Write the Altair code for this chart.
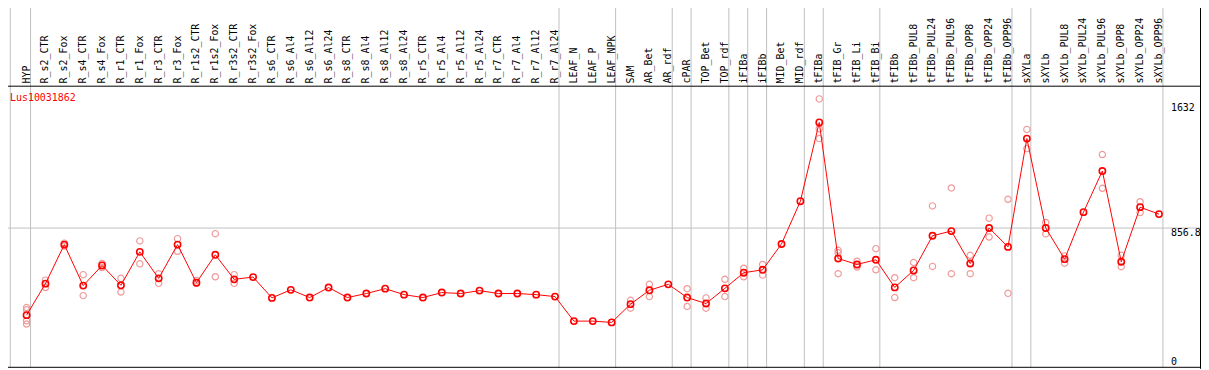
import altair as alt
import pandas as pd

gene = "Lus10031862"

names = [
    "HYP", "R_s2_CTR", "R_s2_Fox", "R_s4_CTR", "R_s4_Fox", "R_r1_CTR", "R_r1_Fox",
    "R_r3_CTR", "R_r3_Fox", "R_r1s2_CTR", "R_r1s2_Fox", "R_r3s2_CTR", "R_r3s2_Fox",
    "R_s6_CTR", "R_s6_Al4", "R_s6_Al12", "R_s6_Al24", "R_s8_CTR", "R_s8_Al4",
    "R_s8_Al12", "R_s8_Al24", "R_r5_CTR", "R_r5_Al4", "R_r5_Al12", "R_r5_Al24",
    "R_r7_CTR", "R_r7_Al4", "R_r7_Al12", "R_r7_Al24", "LEAF_N", "LEAF_P", "LEAF_NPK",
    "SAM", "AR_Bet", "AR_rdf", "cPAR", "TOP_Bet", "TOP_rdf", "iFIBa", "iFIBb",
    "MID_Bet", "MID_rdf", "tFIBa", "tFIB_Gr", "tFIB_Li", "tFIB_Bi", "tFIBb",
    "tFIBb_PUL8", "tFIBb_PUL24", "tFIBb_PUL96", "tFIBb_OPP8", "tFIBb_OPP24",
    "tFIBb_OPP96", "sXYLa", "sXYLb", "sXYLb_PUL8", "sXYLb_PUL24", "sXYLb_PUL96",
    "sXYLb_OPP8", "sXYLb_OPP24", "sXYLb_OPP96",
]

means = [
    317, 512, 754, 500, 625, 502, 709, 545, 754, 518, 691, 539, 553,
    424, 474, 426, 488, 426, 451, 481, 444, 426, 457, 451, 469,
    451, 451, 444, 432, 280, 280, 272,
    385, 471, 508, 426, 389, 483, 580, 598, 758, 1023,
    1511, 668, 631, 660, 489, 594, 809, 838, 637, 857, 740,
    1411, 857, 664, 955, 1210, 648, 986, 943,
]

replicates = [
    [364, 350, 282, 262], [534, 488], [763, 745], [568, 438], [637, 612],
    [545, 460], [777, 635], [574, 514], [791, 713], [532, 514], [822, 555],
    [568, 514], [],
    [], [], [], [], [], [], [], [], [], [], [], [],
    [], [], [], [], [], [], [],
    [409, 360], [508, 432], [], [481, 371], [424, 360], [539, 432],
    [608, 555], [631, 565], [], [],
    [1657, 1472, 1411], [719, 703, 574], [651, 615], [729, 598], [549, 426],
    [643, 549], [994, 619], [1105, 574], [688, 574], [918, 801], [1035, 452],
    [1468, 1349], [891, 820], [684, 639], [], [1312, 1103], [688, 617],
    [1020, 953], [],
]

group_ends = [0, 28, 31, 34, 35, 37, 38, 39, 41, 42, 45, 52, 53, 60]
y_ticks = [1632, 856.8]
y_zero = [0]

W, H = 1201, 362
FONT = "DejaVu Sans Mono"
GRID = "#c0c0c0"

xs = alt.Scale(domain=[-0.9842, 62.2263], zero=False, nice=False)
ys = alt.Scale(domain=[-15.4, 2212.7], zero=False, nice=False)

df = pd.DataFrame({"idx": list(range(len(names))), "name": names, "mean": means})
rdf = pd.DataFrame(
    [{"idx": i, "value": v} for i, reps in enumerate(replicates) for v in reps]
)
gdf = pd.DataFrame({"pos": [-0.863] + [g + 0.21 for g in group_ends]})
one = pd.DataFrame({"a": [0]})

vgrid = alt.Chart(gdf).mark_rule(color=GRID, strokeWidth=1).encode(
    x=alt.X("pos:Q", scale=xs, axis=None), y=alt.value(-8), y2=alt.value(361)
)
hgrid = alt.Chart(pd.DataFrame({"v": [856.8]})).mark_rule(color=GRID, strokeWidth=1).encode(
    y=alt.Y("v:Q", scale=ys, axis=None), x=alt.value(0), x2=alt.value(1200)
)
head_sep = alt.Chart(one).mark_rule(color="black", strokeWidth=1).encode(
    y=alt.value(77.5), x=alt.value(0), x2=alt.value(W)
)
bottom = alt.Chart(one).mark_rule(color="black", strokeWidth=1).encode(
    y=alt.value(360.5), x=alt.value(0), x2=alt.value(W)
)
right = alt.Chart(one).mark_rule(color="black", strokeWidth=1).encode(
    x=alt.value(1200.5), y=alt.value(-8), y2=alt.value(H)
)

reps = alt.Chart(rdf).mark_point(
    shape="circle", filled=False, color="#ef9a9a", size=40, strokeWidth=1.2, opacity=1
).encode(x=alt.X("idx:Q", scale=xs, axis=None), y=alt.Y("value:Q", scale=ys, axis=None))

line = alt.Chart(df).mark_line(color="#ff0000", strokeWidth=1).encode(
    x=alt.X("idx:Q", scale=xs, axis=None), y=alt.Y("mean:Q", scale=ys, axis=None)
)
pts = alt.Chart(df).mark_point(
    shape="circle", filled=False, color="#ff0000", size=40, strokeWidth=1.6, opacity=1
).encode(x=alt.X("idx:Q", scale=xs, axis=None), y=alt.Y("mean:Q", scale=ys, axis=None))

labels = alt.Chart(df).mark_text(
    angle=270, align="left", baseline="middle", font=FONT, fontSize=10, color="black"
).encode(x=alt.X("idx:Q", scale=xs, axis=None), y=alt.value(74.7), text="name:N")

tick_df = pd.DataFrame({"v": y_ticks, "label": [f"{t:g}" for t in y_ticks]})
ticks = alt.Chart(tick_df).mark_text(
    align="left", baseline="alphabetic", dy=8, font=FONT, fontSize=10, color="black"
).encode(x=alt.value(1170.7), y=alt.Y("v:Q", scale=ys, axis=None), text="label:N")
zero_df = pd.DataFrame({"v": y_zero, "label": [f"{t:g}" for t in y_zero]})
zero = alt.Chart(zero_df).mark_text(
    align="left", baseline="alphabetic", dy=-1.5, font=FONT, fontSize=10, color="black"
).encode(x=alt.value(1170.7), y=alt.Y("v:Q", scale=ys, axis=None), text="label:N")

title = alt.Chart(pd.DataFrame({"g": [gene]})).mark_text(
    align="left", baseline="alphabetic", font=FONT, fontSize=10, color="#ff0000"
).encode(x=alt.value(2), y=alt.value(92), text="g:N")

chart = alt.layer(
    vgrid, hgrid, head_sep, bottom, right, reps, line, pts, labels, ticks, zero, title
).properties(
    width=W, height=H, padding=0, autosize=alt.AutoSizeParams(type="none")
).configure_view(strokeWidth=0)

chart.save("out.html", embed_options={"renderer": "svg", "actions": False})
